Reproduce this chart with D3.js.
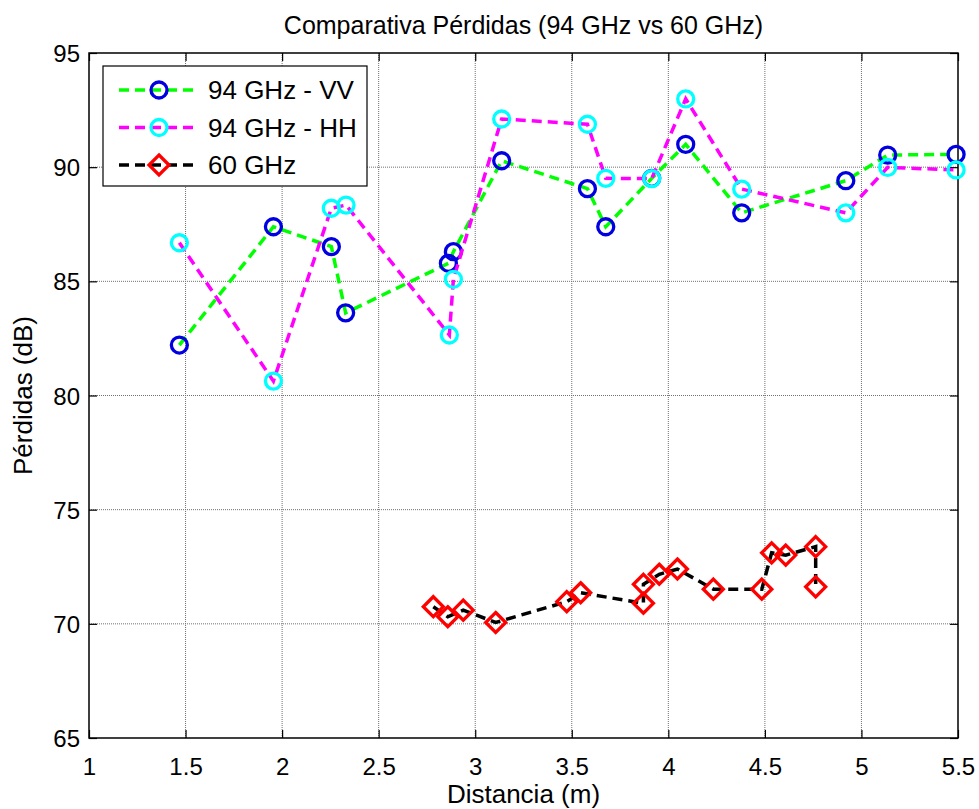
<!DOCTYPE html>
<html>
<head>
<meta charset="utf-8">
<script src="https://cdn.jsdelivr.net/npm/d3@7"></script>
<style>
  html, body { margin: 0; padding: 0; background: #fff; }
  svg { display: block; }
  text { font-family: "Liberation Sans", Arial, Helvetica, sans-serif; fill: #000; }
</style>
</head>
<body>
<svg id="chart" width="979" height="809"></svg>
<script>
// ---- data ----
const vvX = [1.468, 1.955, 2.255, 2.329, 2.861, 2.887, 3.137, 3.581, 3.676, 3.914, 4.09, 4.38, 4.919, 5.136, 5.49];
const vvY = [82.21, 87.39, 86.52, 83.62, 85.79, 86.30, 90.28, 89.06, 87.39, 89.51, 91.00, 88.00, 89.41, 90.53, 90.56];
const hhX = [1.468, 1.955, 2.255, 2.331, 2.866, 2.887, 3.137, 3.581, 3.676, 3.914, 4.09, 4.38, 4.919, 5.136, 5.49];
const hhY = [86.69, 80.63, 88.20, 88.34, 82.65, 85.09, 92.11, 91.88, 89.51, 89.50, 92.99, 89.04, 88.00, 89.99, 89.88];
const g60X = [2.783, 2.858, 2.938, 3.106, 3.474, 3.546, 3.871, 3.871, 3.953, 4.047, 4.233, 4.484, 4.535, 4.608, 4.763, 4.763];
const g60Y = [70.75, 70.31, 70.60, 70.06, 70.97, 71.36, 70.90, 71.73, 72.17, 72.40, 71.52, 71.52, 73.11, 73.01, 73.38, 71.62];
const xTicks = [1, 1.5, 2, 2.5, 3, 3.5, 4, 4.5, 5, 5.5];
const yTicks = [65, 70, 75, 80, 85, 90, 95];
const seriesNames = ["94 GHz - VV", "94 GHz - HH", "60 GHz"];

// ---- layout ----
const L = 89, R = 958, T = 53, B = 738;
const svg = d3.select("#chart");
const x = d3.scaleLinear().domain([1, 5.5]).range([L, R]);
const y = d3.scaleLinear().domain([65, 95]).range([B, T]);

// grid
const grid = svg.append("g");
grid.selectAll("line.gx").data(xTicks.slice(1, -1)).join("line")
  .attr("x1", d => x(d)).attr("x2", d => x(d)).attr("y1", T).attr("y2", B)
  .attr("stroke", "#707070").attr("stroke-width", 1).attr("stroke-dasharray", "1,1");
grid.selectAll("line.gy").data(yTicks.slice(1, -1)).join("line")
  .attr("y1", d => y(d)).attr("y2", d => y(d)).attr("x1", L).attr("x2", R)
  .attr("stroke", "#707070").attr("stroke-width", 1).attr("stroke-dasharray", "1,1");

// axes (ticks inside, on all four sides)
const tl = 8;
const fmt = d => String(d);
const axB = svg.append("g").attr("transform", `translate(0,${B})`)
  .call(d3.axisBottom(x).tickValues(xTicks).tickFormat(fmt).tickSizeInner(-tl).tickSizeOuter(0).tickPadding(0));
const axT = svg.append("g").attr("transform", `translate(0,${T})`)
  .call(d3.axisTop(x).tickValues(xTicks).tickFormat("").tickSizeInner(-tl).tickSizeOuter(0));
const axLf = svg.append("g").attr("transform", `translate(${L},0)`)
  .call(d3.axisLeft(y).tickValues(yTicks).tickFormat(fmt).tickSizeInner(-tl).tickSizeOuter(0).tickPadding(0));
const axRt = svg.append("g").attr("transform", `translate(${R},0)`)
  .call(d3.axisRight(y).tickValues(yTicks).tickFormat("").tickSizeInner(-tl).tickSizeOuter(0));
[axB, axT, axLf, axRt].forEach(a => {
  a.select(".domain").remove();
  a.selectAll(".tick line").attr("stroke", "#000").attr("stroke-width", 1.2);
  a.selectAll("text").style("font-size", "24px").style("font-family", "'Liberation Sans', Arial, sans-serif").attr("fill", "#000");
});
axB.selectAll("text").attr("y", 37).attr("dy", null);
axLf.selectAll("text").attr("x", -9).attr("dy", "0.36em");

// box
svg.append("rect").attr("x", L).attr("y", T).attr("width", R - L).attr("height", B - T)
  .attr("fill", "none").attr("stroke", "#000").attr("stroke-width", 1.5);

// series
const line = d3.line().x(d => x(d[0])).y(d => y(d[1]));
const series = [
  { name: seriesNames[0], xs: vvX, ys: vvY, lc: "#00ff00", mc: "#0000e0", m: "circle" },
  { name: seriesNames[1], xs: hhX, ys: hhY, lc: "#ff00ff", mc: "#00ffff", m: "circle" },
  { name: seriesNames[2], xs: g60X, ys: g60Y, lc: "#000000", mc: "#ff0000", m: "diamond" }
];
const dash = "10,6";
function drawMarker(g, m, color, cx, cy) {
  if (m === "circle") {
    g.append("circle").attr("cx", cx).attr("cy", cy).attr("r", 8)
      .attr("fill", "none").attr("stroke", color).attr("stroke-width", 3.3);
  } else {
    const s = 10;
    g.append("path").attr("d", `M${cx},${cy - s}L${cx + s},${cy}L${cx},${cy + s}L${cx - s},${cy}Z`)
      .attr("fill", "none").attr("stroke", color).attr("stroke-width", 3.3);
  }
}
series.forEach(s => {
  const pts = s.xs.map((v, i) => [v, s.ys[i]]);
  svg.append("path").datum(pts).attr("d", line).attr("fill", "none")
    .attr("stroke", s.lc).attr("stroke-width", 3.5).attr("stroke-dasharray", dash);
  const g = svg.append("g");
  pts.forEach(p => drawMarker(g, s.m, s.mc, x(p[0]), y(p[1])));
});

// legend
const lg = svg.append("g");
lg.append("rect").attr("x", 103).attr("y", 66).attr("width", 264).attr("height", 120)
  .attr("fill", "#fff").attr("stroke", "#000").attr("stroke-width", 1.2);
series.forEach((s, i) => {
  const yy = 90 + i * 37.5;
  lg.append("line").attr("x1", 119).attr("x2", 198).attr("y1", yy).attr("y2", yy)
    .attr("stroke", s.lc).attr("stroke-width", 3.5).attr("stroke-dasharray", dash);
  drawMarker(lg, s.m, s.mc, 159, yy);
  lg.append("text").attr("x", 208).attr("y", yy).attr("dy", "0.36em")
    .style("font-size", "26px").text(s.name);
});

// titles
svg.append("text").attr("x", (L + R) / 2).attr("y", 34).attr("text-anchor", "middle")
  .style("font-size", "25px").text("Comparativa Pérdidas (94 GHz vs 60 GHz)");
svg.append("text").attr("x", (L + R) / 2).attr("y", 803).attr("text-anchor", "middle")
  .style("font-size", "26px").text("Distancia (m)");
svg.append("text").attr("transform", `translate(32,${(T + B) / 2}) rotate(-90)`)
  .attr("text-anchor", "middle").style("font-size", "26px").text("Pérdidas (dB)");
</script>
</body>
</html>
